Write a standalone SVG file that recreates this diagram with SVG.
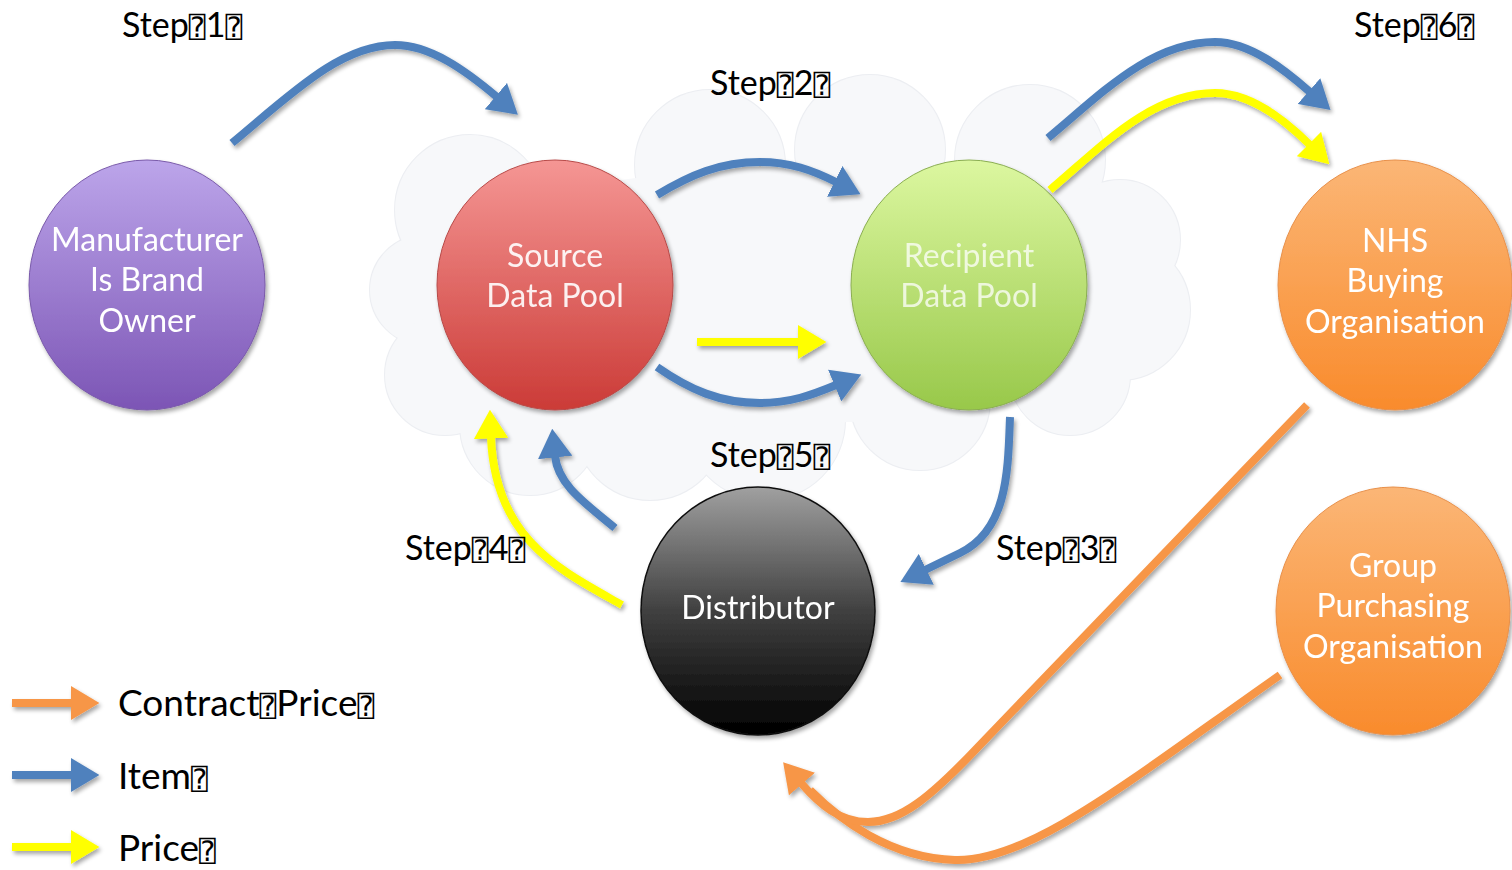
<svg xmlns="http://www.w3.org/2000/svg" width="1512" height="870" viewBox="0 0 1512 870">
<defs>
<linearGradient id="gPurple" x1="0" y1="0" x2="0" y2="1"><stop offset="0" stop-color="#bca5ea"/><stop offset="1" stop-color="#7c55b5"/></linearGradient>
<linearGradient id="gRed" x1="0" y1="0" x2="0" y2="1"><stop offset="0" stop-color="#f59694"/><stop offset="1" stop-color="#cb3b37"/></linearGradient>
<linearGradient id="gGreen" x1="0" y1="0" x2="0" y2="1"><stop offset="0" stop-color="#dcf7a0"/><stop offset="1" stop-color="#98c84a"/></linearGradient>
<linearGradient id="gOrange" x1="0" y1="0" x2="0" y2="1"><stop offset="0" stop-color="#fbb676"/><stop offset="1" stop-color="#f98b2c"/></linearGradient>
<linearGradient id="gBlack" x1="0" y1="0" x2="0" y2="1"><stop offset="0" stop-color="#a0a0a0"/><stop offset="0.5" stop-color="#404040"/><stop offset="1" stop-color="#000"/></linearGradient>
<filter id="sh" filterUnits="userSpaceOnUse" x="0" y="0" width="1512" height="870"><feGaussianBlur in="SourceAlpha" stdDeviation="2"/><feOffset dx="2" dy="3"/><feComponentTransfer><feFuncA type="linear" slope="0.35"/></feComponentTransfer><feMerge><feMergeNode/><feMergeNode in="SourceGraphic"/></feMerge></filter>
<marker id="hB" viewBox="0 0 10 10" preserveAspectRatio="none" refX="0.5" refY="5" markerWidth="3.6" markerHeight="4.3" orient="auto" markerUnits="strokeWidth"><path d="M0,0 L10,5 L0,10 z" fill="#4f81bd"/></marker>
<marker id="hY" viewBox="0 0 10 10" preserveAspectRatio="none" refX="0.5" refY="5" markerWidth="3.6" markerHeight="4.3" orient="auto" markerUnits="strokeWidth"><path d="M0,0 L10,5 L0,10 z" fill="#ffff00"/></marker>
<marker id="hO" viewBox="0 0 10 10" preserveAspectRatio="none" refX="0.5" refY="5" markerWidth="3.6" markerHeight="4.3" orient="auto" markerUnits="strokeWidth"><path d="M0,0 L10,5 L0,10 z" fill="#f79646"/></marker>
</defs>
<style>
.lbl{font-family:Lato,"Open Sans","Liberation Sans",sans-serif;font-size:34px;fill:#000}
.tofu{font-family:"DejaVu Sans Mono","DejaVu Sans",monospace;font-size:28px}
.nt{font-family:Lato,"Open Sans","Liberation Sans",sans-serif;font-size:32px;fill:#ffffff;text-anchor:middle}
.b{fill:none;stroke:#4f81bd;stroke-width:8;marker-end:url(#hB)}
.y{fill:none;stroke:#ffff00;stroke-width:8;marker-end:url(#hY)}
.o{fill:none;stroke:#f79646;stroke-width:8;marker-end:url(#hO)}
.o2{fill:none;stroke:#f79646;stroke-width:8}
.cs{fill:none;stroke:#eceef2;stroke-width:2}
.cf{fill:#f7f8fa}
</style>
<rect width="1512" height="870" fill="#ffffff"/>
<g id="cloud">
<g class="cs">
<circle cx="470" cy="210" r="75"/><circle cx="425" cy="290" r="55"/><circle cx="445" cy="375" r="60"/><circle cx="530" cy="425" r="70"/><circle cx="650" cy="425" r="75"/><circle cx="765" cy="420" r="80"/><circle cx="710" cy="165" r="75"/><circle cx="870" cy="150" r="75"/><circle cx="1030" cy="160" r="75"/><circle cx="1120" cy="240" r="60"/><circle cx="1120" cy="310" r="70"/><circle cx="1070" cy="375" r="60"/><circle cx="920" cy="400" r="70"/>
</g>
<g class="cf">
<circle cx="470" cy="210" r="75"/><circle cx="425" cy="290" r="55"/><circle cx="445" cy="375" r="60"/><circle cx="530" cy="425" r="70"/><circle cx="650" cy="425" r="75"/><circle cx="765" cy="420" r="80"/><circle cx="710" cy="165" r="75"/><circle cx="870" cy="150" r="75"/><circle cx="1030" cy="160" r="75"/><circle cx="1120" cy="240" r="60"/><circle cx="1120" cy="310" r="70"/><circle cx="1070" cy="375" r="60"/><circle cx="920" cy="400" r="70"/>
<path d="M460,200 L700,170 L1030,170 L1110,250 L1110,330 L1060,380 L900,420 L650,430 L470,380 Z"/>
</g>
</g>
<g id="manufacturer" filter="url(#sh)">
<ellipse cx="147" cy="285" rx="118" ry="125" fill="url(#gPurple)" stroke="#7a5aaa" stroke-width="1"/>
<text class="nt" x="147" y="251">Manufacturer</text><text class="nt" x="147" y="291">Is Brand</text><text class="nt" x="147" y="332">Owner</text>
</g>
<g id="source" filter="url(#sh)">
<ellipse cx="555" cy="285" rx="118" ry="125" fill="url(#gRed)" stroke="#b84a48" stroke-width="1"/>
<text class="nt" x="555" y="267" fill-opacity="0.9">Source</text><text class="nt" x="555" y="307" fill-opacity="0.9">Data Pool</text>
</g>
<g id="recipient" filter="url(#sh)">
<ellipse cx="969" cy="285" rx="118" ry="125" fill="url(#gGreen)" stroke="#8aae50" stroke-width="1"/>
<text class="nt" x="969" y="267" fill-opacity="0.75">Recipient</text><text class="nt" x="969" y="307" fill-opacity="0.75">Data Pool</text>
</g>
<g id="nhs" filter="url(#sh)">
<ellipse cx="1395" cy="285" rx="117" ry="125" fill="url(#gOrange)" stroke="#e8904a" stroke-width="1"/>
<text class="nt" x="1395" y="252">NHS</text><text class="nt" x="1395" y="292">Buying</text><text class="nt" x="1395" y="333">Organisation</text>
</g>
<g id="gpo" filter="url(#sh)">
<ellipse cx="1393" cy="611" rx="117" ry="124" fill="url(#gOrange)" stroke="#e8904a" stroke-width="1"/>
<text class="nt" x="1393" y="577">Group</text><text class="nt" x="1393" y="617">Purchasing</text><text class="nt" x="1393" y="658">Organisation</text>
</g>
<g id="distributor" filter="url(#sh)">
<ellipse cx="758" cy="611" rx="117" ry="124" fill="url(#gBlack)" stroke="#111" stroke-width="1.5"/>
<text class="nt" x="758" y="619" fill="#eeeeee">Distributor</text>
</g>
<g id="connectors" filter="url(#sh)">
<path class="b" d="M232,143 C290,95 340,45 395,45 C430,45 465,70 497,97"/>
<path class="b" d="M657,195 C690,175 720,162 760,162 C790,162 812,170 836,182"/>
<path class="y" d="M697,342 L799,342"/>
<path class="b" d="M657,367 C690,390 720,403 760,403 C790,403 812,395 836,385"/>
<path class="b" d="M1048,138 C1100,95 1150,42 1215,42 C1250,42 1285,70 1310,92"/>
<path class="y" d="M1050,190 C1100,148 1150,93 1215,93 C1250,93 1285,120 1310,145"/>
<path class="b" d="M1010,417 C1008,470 1008,530 960,553 L925,570"/>
<path class="b" d="M615,528 C585,503 558,485 555,456"/>
<path class="y" d="M622,605 C560,570 495,540 491,437"/>
<path class="o2" d="M1280,675 C1130,780 1030,862 955,860 C890,858 840,820 810,790"/>
<path class="o" d="M1307,405 L980,745 C930,798 900,822 868,822 C840,822 820,805 801,783"/>
</g>
<g id="labels">
<text class="lbl" x="122" y="37">Step<tspan class="tofu">⍰</tspan>1<tspan class="tofu">⍰</tspan></text>
<text class="lbl" x="710" y="95">Step<tspan class="tofu">⍰</tspan>2<tspan class="tofu">⍰</tspan></text>
<text class="lbl" x="1354" y="37">Step<tspan class="tofu">⍰</tspan>6<tspan class="tofu">⍰</tspan></text>
<text class="lbl" x="710" y="467">Step<tspan class="tofu">⍰</tspan>5<tspan class="tofu">⍰</tspan></text>
<text class="lbl" x="405" y="560">Step<tspan class="tofu">⍰</tspan>4<tspan class="tofu">⍰</tspan></text>
<text class="lbl" x="996" y="560">Step<tspan class="tofu">⍰</tspan>3<tspan class="tofu">⍰</tspan></text>
</g>
<g id="legend">
<g filter="url(#sh)">
<path class="o" d="M12,703 L72,703"/>
<path class="b" d="M12,775 L72,775"/>
<path class="y" d="M12,847 L72,847"/>
</g>
<text class="lbl" x="118" y="716" style="font-size:37px">Contract<tspan class="tofu">⍰</tspan>Price<tspan class="tofu">⍰</tspan></text>
<text class="lbl" x="118" y="789" style="font-size:37px">Item<tspan class="tofu">⍰</tspan></text>
<text class="lbl" x="118" y="861" style="font-size:37px">Price<tspan class="tofu">⍰</tspan></text>
</g>
</svg>
